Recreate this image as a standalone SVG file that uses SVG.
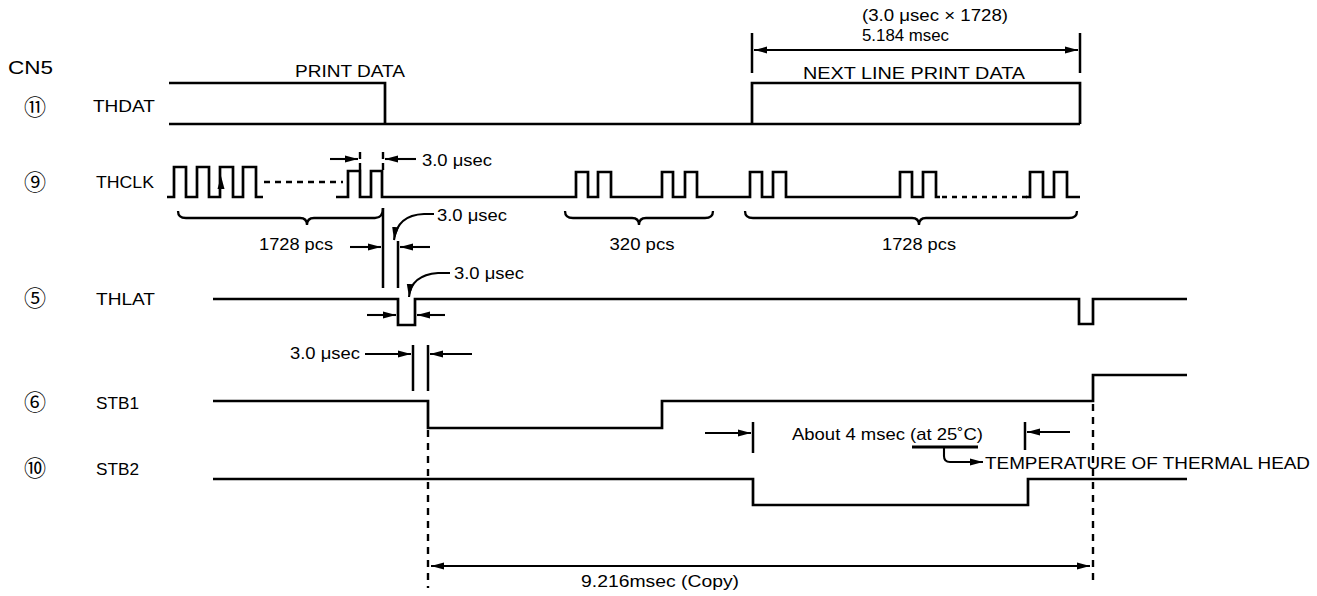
<svg xmlns="http://www.w3.org/2000/svg" width="1317" height="596" viewBox="0 0 1317 596">
<style>
.sig{fill:none;stroke:#000;stroke-width:2.7;stroke-linejoin:miter;stroke-linecap:butt}
.dim{fill:none;stroke:#000;stroke-width:2.1}
.tick{fill:none;stroke:#000;stroke-width:2.5}
.dash{fill:none;stroke:#000;stroke-width:2.4;stroke-dasharray:6,5}
.dot{fill:none;stroke:#000;stroke-width:2.4;stroke-dasharray:5,5}
.brace{fill:none;stroke:#000;stroke-width:2.3}
text{font-family:"Liberation Sans",Arial,sans-serif;font-size:17px;fill:#000}
.num{font-family:"Noto Sans CJK JP","DejaVu Sans",sans-serif;font-size:22px}
</style>
<defs>
<marker id="ah" markerUnits="userSpaceOnUse" markerWidth="14" markerHeight="10" refX="13" refY="4" orient="auto-start-reverse" viewBox="0 0 14 8">
<path d="M0,0.6 L13,4 L0,7.4 z" fill="#000"/>
</marker>
</defs>
<rect width="1317" height="596" fill="#fff"/>

<g id="labels">
<text x="8" y="74" textLength="45" lengthAdjust="spacingAndGlyphs" style="font-size:19px">CN5</text>
<text class="num" x="35" y="115" text-anchor="middle">⑪</text>
<text class="num" x="35" y="190" text-anchor="middle">⑨</text>
<text class="num" x="35" y="306" text-anchor="middle">⑤</text>
<text class="num" x="35" y="410" text-anchor="middle">⑥</text>
<text class="num" x="35" y="476" text-anchor="middle">⑩</text>
<text x="93" y="112" textLength="62" lengthAdjust="spacingAndGlyphs">THDAT</text>
<text x="96" y="188" textLength="58" lengthAdjust="spacingAndGlyphs">THCLK</text>
<text x="96" y="305" textLength="59" lengthAdjust="spacingAndGlyphs">THLAT</text>
<text x="96" y="409" textLength="43" lengthAdjust="spacingAndGlyphs">STB1</text>
<text x="96" y="475" textLength="43" lengthAdjust="spacingAndGlyphs">STB2</text>
</g>

<g id="thdat">
<path class="sig" d="M169,83 H385 V124"/>
<path class="sig" d="M169,124 H1080"/>
<path class="sig" d="M752,124 V83 H1080 V124"/>
<text x="295" y="77" textLength="110" lengthAdjust="spacingAndGlyphs">PRINT DATA</text>
<text x="803" y="79" textLength="222" lengthAdjust="spacingAndGlyphs">NEXT LINE PRINT DATA</text>
</g>

<g id="dim-5184">
<path class="tick" d="M752,33 V73 M1080,33 V73"/>
<path class="dim" d="M754,50 H1078" marker-start="url(#ah)" marker-end="url(#ah)"/>
<text x="862" y="21" textLength="146" lengthAdjust="spacingAndGlyphs">(3.0 μsec × 1728)</text>
<text x="862" y="41" textLength="87" lengthAdjust="spacingAndGlyphs">5.184 msec</text>
</g>

<g id="thclk">
<path class="sig" d="M167,197 H174 V167 H186 V197 H197 V167 H209 V197 H220 V167 H233 V197 H243 V167 H256 V197 H263"/>
<path class="dash" d="M264,182 H343"/>
<path class="sig" d="M336,197 H348 V171 H360 V197 H371 V171 H382 V197 H576 V172 H588 V197 H598 V172 H611 V197 H662 V172 H673 V197 H685 V172 H697 V197 H750 V172 H762 V197 H773 V172 H786 V197 H900 V172 H912 V197 H923 V172 H936 V197 H940"/>
<path class="dot" d="M942,197 H1028"/>
<path class="sig" d="M1026,197 H1030 V172 H1043 V197 H1054 V172 H1067 V197 H1080"/>
<path d="M221,176 L217.5,189 L224.5,189 z" fill="#000"/>
<path class="brace" d="M178,211 Q178,218 186,218 H300 Q307,218 307,225 Q307,218 314,218 H375 Q383,218 383,208"/>
<path class="brace" d="M565,211 Q565,218 573,218 H632 Q639,218 639,225 Q639,218 646,218 H705 Q713,218 713,211"/>
<path class="brace" d="M745,211 Q745,218 753,218 H912 Q919,218 919,225 Q919,218 926,218 H1069 Q1077,218 1077,211"/>
<text x="296" y="250" text-anchor="middle" textLength="74" lengthAdjust="spacingAndGlyphs">1728 pcs</text>
<text x="642" y="250" text-anchor="middle" textLength="65" lengthAdjust="spacingAndGlyphs">320 pcs</text>
<text x="919" y="250" text-anchor="middle" textLength="74" lengthAdjust="spacingAndGlyphs">1728 pcs</text>
</g>

<g id="thlat">
<path class="sig" d="M213,299 H398 V325 H415 V299 H1079 V324 H1093 V299 H1187"/>
</g>

<g id="stb1">
<path class="sig" d="M213,401 H428 V428 H662 V401 H1093 V375 H1187"/>
</g>

<g id="stb2">
<path class="sig" d="M213,479 H753 V505 H1028 V479 H1187"/>
</g>

<g id="connectors">
<path class="dash" d="M360,152 V172 M383,152 V172" style="stroke-dasharray:7,4"/>
<path class="dim" d="M330,159 H358" marker-end="url(#ah)"/>
<path class="dim" d="M416,159 H385" marker-end="url(#ah)"/>
<text x="422" y="166" textLength="70" lengthAdjust="spacingAndGlyphs">3.0 μsec</text>
<path class="tick" d="M383,208 V288 M398,241 V288"/>
<path class="dim" d="M350,247 H381" marker-end="url(#ah)"/>
<path class="dim" d="M430,247 H400" marker-end="url(#ah)"/>
<path class="dim" d="M434,214 H424 Q397,215 394,240" marker-end="url(#ah)"/>
<text x="437" y="221" textLength="70" lengthAdjust="spacingAndGlyphs">3.0 μsec</text>
<path class="dim" d="M367,315 H396" marker-end="url(#ah)"/>
<path class="dim" d="M445,315 H417" marker-end="url(#ah)"/>
<path class="dim" d="M450,273 H438 Q411,275 409,297" marker-end="url(#ah)"/>
<text x="454" y="279" textLength="70" lengthAdjust="spacingAndGlyphs">3.0 μsec</text>
<path class="tick" d="M413,345 V391 M428,345 V391"/>
<path class="dim" d="M365,354 H411" marker-end="url(#ah)"/>
<path class="dim" d="M472,354 H430" marker-end="url(#ah)"/>
<text x="290" y="359" textLength="70" lengthAdjust="spacingAndGlyphs">3.0 μsec</text>
<path class="tick" d="M753,422 V453 M1025,422 V450"/>
<path class="dim" d="M705,433 H751" marker-end="url(#ah)"/>
<path class="dim" d="M1070,432 H1027" marker-end="url(#ah)"/>
<text x="792" y="440" textLength="191" lengthAdjust="spacingAndGlyphs">About 4 msec (at 25˚C)</text>
<path fill="none" stroke="#000" stroke-width="3" d="M912,447 H978"/>
<path class="dim" d="M944,447 V456 Q944,462 950,462 H983" marker-end="url(#ah)"/>
<text x="985" y="469" textLength="325" lengthAdjust="spacingAndGlyphs">TEMPERATURE OF THERMAL HEAD</text>
<path class="dash" d="M428,430 V588" style="stroke-dasharray:7,6"/>
<path class="dash" d="M1093,404 V580" style="stroke-dasharray:7,6"/>
<path class="dim" d="M431,566 H1090" marker-start="url(#ah)" marker-end="url(#ah)"/>
<text x="660" y="587" text-anchor="middle" textLength="158" lengthAdjust="spacingAndGlyphs">9.216msec (Copy)</text>
</g>
</svg>
